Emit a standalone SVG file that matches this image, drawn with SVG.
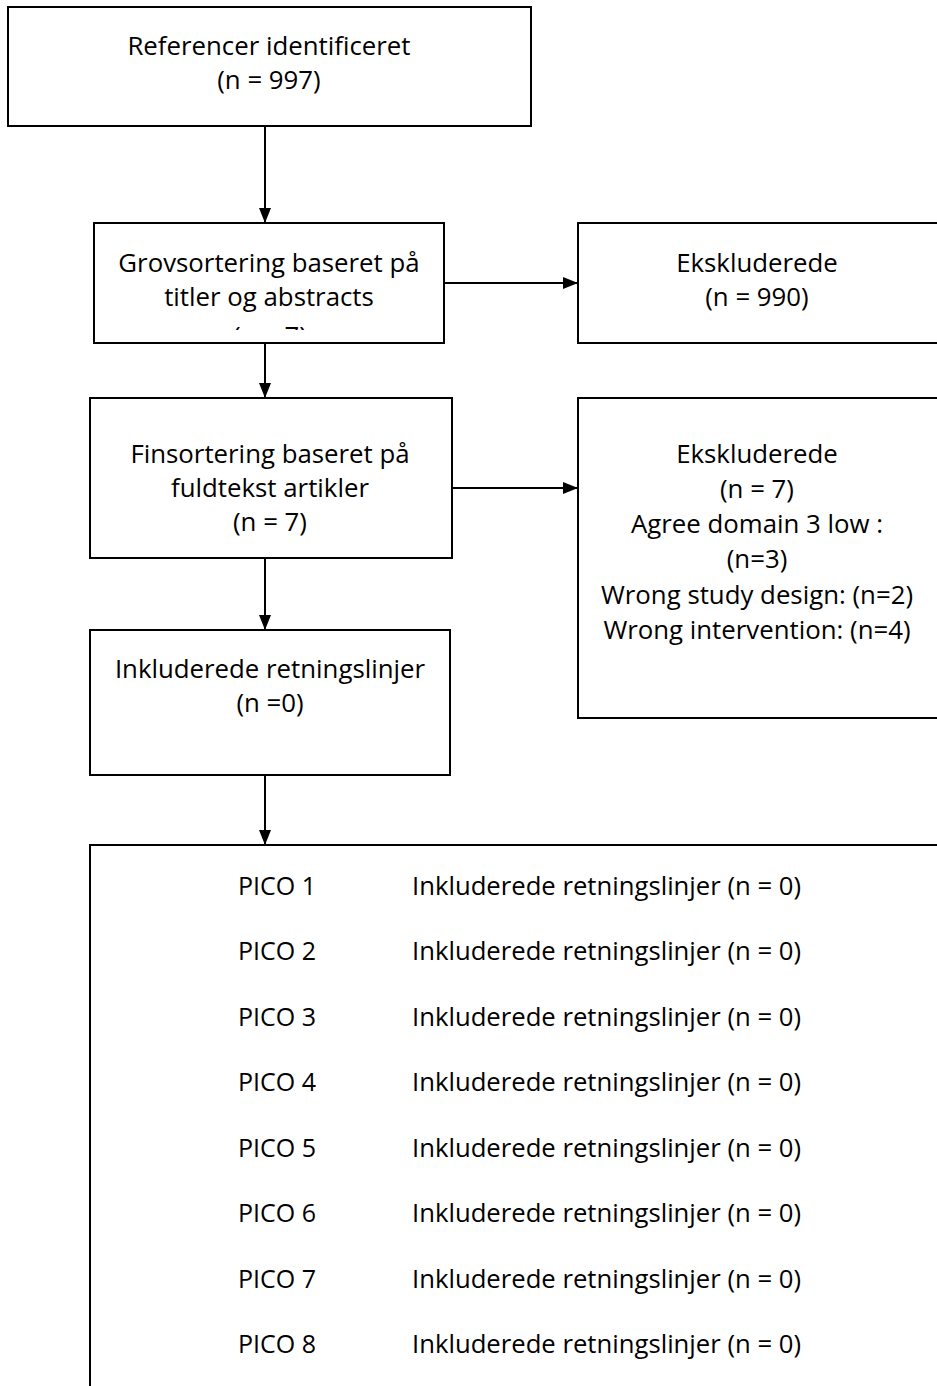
<svg xmlns="http://www.w3.org/2000/svg" width="937" height="1386" viewBox="0 0 937 1386">
<style>
.box{fill:#fff;stroke:#000;stroke-width:2}
.t{font-family:"Open Sans","Liberation Sans",sans-serif;font-size:25.8px;fill:#000;text-anchor:middle}
.p{font-family:"Open Sans","Liberation Sans",sans-serif;font-size:26px;fill:#000}
.c{stroke:#000;stroke-width:2;fill:none;marker-end:url(#ah)}
</style>
<defs>
<marker id="ah" markerWidth="15" markerHeight="12" refX="15" refY="6" orient="auto" markerUnits="userSpaceOnUse">
<path d="M0,0 L15,6 L0,12 Z" fill="#000"/>
</marker>
<clipPath id="clipGrov"><rect x="94" y="223" width="350" height="107"/></clipPath>
</defs>
<rect width="937" height="1386" fill="#fff"/>
<g id="connectors">
<line class="c" x1="265" y1="126" x2="265" y2="223"/>
<line class="c" x1="444" y1="283" x2="578" y2="283"/>
<line class="c" x1="265" y1="343" x2="265" y2="398"/>
<line class="c" x1="452" y1="488" x2="578" y2="488"/>
<line class="c" x1="265" y1="558" x2="265" y2="630"/>
<line class="c" x1="265" y1="775" x2="265" y2="845"/>
</g>
<g id="n-referencer">
<rect class="box" x="8" y="7" width="523" height="119"/>
<text class="t" x="269" y="55">Referencer identificeret</text>
<text class="t" x="269" y="89">(n = 997)</text>
</g>
<g id="n-grov">
<rect class="box" x="94" y="223" width="350" height="120"/>
<text class="t" x="269" y="272">Grovsortering baseret på</text>
<text class="t" x="269" y="306">titler og abstracts</text>
<text class="t" x="270" y="345" clip-path="url(#clipGrov)">(n = 7)</text>
</g>
<g id="n-ekskl1">
<rect class="box" x="578" y="223" width="370" height="120"/>
<text class="t" x="757" y="272">Ekskluderede</text>
<text class="t" x="757" y="306">(n = 990)</text>
</g>
<g id="n-fins">
<rect class="box" x="90" y="398" width="362" height="160"/>
<text class="t" x="270" y="463">Finsortering baseret på</text>
<text class="t" x="270" y="497">fuldtekst artikler</text>
<text class="t" x="270" y="531">(n = 7)</text>
</g>
<g id="n-ekskl2">
<rect class="box" x="578" y="398" width="370" height="320"/>
<text class="t" x="757" y="463">Ekskluderede</text>
<text class="t" x="757" y="498">(n = 7)</text>
<text class="t" x="757" y="533">Agree domain 3 low :</text>
<text class="t" x="757" y="568">(n=3)</text>
<text class="t" x="757" y="604">Wrong study design: (n=2)</text>
<text class="t" x="757" y="639">Wrong intervention: (n=4)</text>
</g>
<g id="n-inkl">
<rect class="box" x="90" y="630" width="360" height="145"/>
<text class="t" x="270" y="678">Inkluderede retningslinjer</text>
<text class="t" x="270" y="712">(n =0)</text>
</g>
<g id="n-pico">
<rect class="box" x="90" y="845" width="870" height="560"/>
<text class="p" x="238" y="895" textLength="78" lengthAdjust="spacingAndGlyphs">PICO 1</text>
<text class="p" x="412" y="895" textLength="389" lengthAdjust="spacingAndGlyphs">Inkluderede retningslinjer (n = 0)</text>
<text class="p" x="238" y="960" textLength="78" lengthAdjust="spacingAndGlyphs">PICO 2</text>
<text class="p" x="412" y="960" textLength="389" lengthAdjust="spacingAndGlyphs">Inkluderede retningslinjer (n = 0)</text>
<text class="p" x="238" y="1026" textLength="78" lengthAdjust="spacingAndGlyphs">PICO 3</text>
<text class="p" x="412" y="1026" textLength="389" lengthAdjust="spacingAndGlyphs">Inkluderede retningslinjer (n = 0)</text>
<text class="p" x="238" y="1091" textLength="78" lengthAdjust="spacingAndGlyphs">PICO 4</text>
<text class="p" x="412" y="1091" textLength="389" lengthAdjust="spacingAndGlyphs">Inkluderede retningslinjer (n = 0)</text>
<text class="p" x="238" y="1157" textLength="78" lengthAdjust="spacingAndGlyphs">PICO 5</text>
<text class="p" x="412" y="1157" textLength="389" lengthAdjust="spacingAndGlyphs">Inkluderede retningslinjer (n = 0)</text>
<text class="p" x="238" y="1222" textLength="78" lengthAdjust="spacingAndGlyphs">PICO 6</text>
<text class="p" x="412" y="1222" textLength="389" lengthAdjust="spacingAndGlyphs">Inkluderede retningslinjer (n = 0)</text>
<text class="p" x="238" y="1288" textLength="78" lengthAdjust="spacingAndGlyphs">PICO 7</text>
<text class="p" x="412" y="1288" textLength="389" lengthAdjust="spacingAndGlyphs">Inkluderede retningslinjer (n = 0)</text>
<text class="p" x="238" y="1353" textLength="78" lengthAdjust="spacingAndGlyphs">PICO 8</text>
<text class="p" x="412" y="1353" textLength="389" lengthAdjust="spacingAndGlyphs">Inkluderede retningslinjer (n = 0)</text>
</g>
</svg>
